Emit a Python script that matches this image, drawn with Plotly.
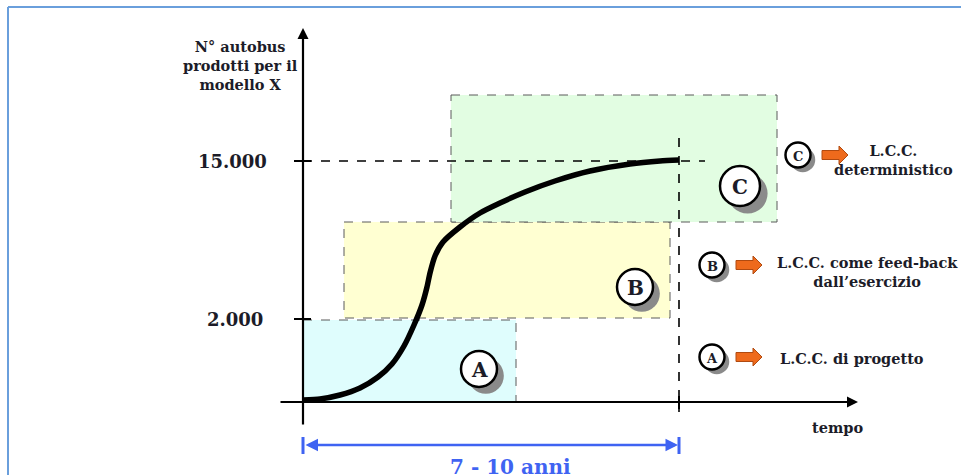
import plotly.graph_objects as go

# ---- diagram data (schematic coordinates: x to the right, y downward) ----
curve_x = [303, 320, 340, 360, 378, 392, 404, 414, 422, 427, 430, 435, 443,
           460, 480, 500, 525, 555, 590, 630, 660, 679]
curve_y = [400, 399, 395, 388, 377, 364, 346, 325, 305, 287, 273, 256, 242,
           227, 213, 203, 192, 181, 171, 164, 161, 160]

phase_names = ["A", "B", "C"]
phase_x0 = [303, 344, 451]
phase_x1 = [516, 670, 777]
phase_y0 = [320, 222, 95]
phase_y1 = [402, 318, 222]
phase_fill = ["#DFFDFD", "#FFFFD2", "#E2FDE2"]
phase_badge_x = [479, 635, 740]
phase_badge_y = [369, 287, 186]
phase_badge_r = [18, 18, 20]

legend_badge_x = [712, 712, 798]
legend_badge_y = [357, 265, 155]
legend_text = ["L.C.C. di progetto",
               "L.C.C. come feed-back<br>dall\u2019esercizio",
               "L.C.C.<br>deterministico"]
legend_text_x = [852, 867, 893]
legend_text_y = [358, 272, 160]

ytick_labels = ["2.000", "15.000"]
ytick_pos = [319, 161]
ytick_label_x = [235, 232]

origin_x, origin_y = 303, 402
end_x = 679
yaxis_top = 28
xaxis_end = 858
span_y = 445
span_label = "7 - 10 anni"
y_title = "N\u00b0 autobus<br>prodotti per il<br>modello X"
x_title = "tempo"

FONT = "DejaVu Serif"
TXT = "#1c1c28"

fig = go.Figure()
shapes = []
annotations = []

# outer frame
shapes.append(dict(type="line", x0=8, y0=7, x1=961, y1=7, line=dict(color="#6A9FDC", width=2)))
shapes.append(dict(type="line", x0=8, y0=7, x1=8, y1=475, line=dict(color="#6A9FDC", width=2)))

# phase rectangles
for i in range(3):
    shapes.append(dict(type="rect", x0=phase_x0[i], x1=phase_x1[i], y0=phase_y0[i], y1=phase_y1[i],
                       fillcolor=phase_fill[i], layer="below",
                       line=dict(color="#5a5a5a", width=1, dash="dash")))

# dashed guide lines
shapes.append(dict(type="line", x0=origin_x, x1=705, y0=ytick_pos[1], y1=ytick_pos[1],
                   line=dict(color="black", width=1.6, dash="dash")))
shapes.append(dict(type="line", x0=end_x, x1=end_x, y0=138, y1=412,
                   line=dict(color="black", width=1.6, dash="dash")))

# curve
fig.add_trace(go.Scatter(x=curve_x, y=curve_y, mode="lines",
                         line=dict(color="black", width=5.5, shape="spline", smoothing=0.6),
                         hoverinfo="skip", showlegend=False))

# axes with arrowheads
annotations.append(dict(x=origin_x, y=yaxis_top, ax=origin_x, ay=426, xref="x", yref="y",
                        axref="x", ayref="y", showarrow=True, arrowhead=2, arrowsize=1,
                        arrowwidth=2.2, arrowcolor="black", text=""))
annotations.append(dict(x=xaxis_end, y=origin_y, ax=279, ay=origin_y, xref="x", yref="y",
                        axref="x", ayref="y", showarrow=True, arrowhead=2, arrowsize=1,
                        arrowwidth=2.2, arrowcolor="black", text=""))
# ticks
for yp in ytick_pos:
    shapes.append(dict(type="line", x0=294, x1=311, y0=yp, y1=yp, line=dict(color="black", width=2)))
shapes.append(dict(type="line", x0=end_x, x1=end_x, y0=396, y1=409, line=dict(color="black", width=2)))

for lab, yp, xp in zip(ytick_labels, ytick_pos, ytick_label_x):
    annotations.append(dict(x=xp, y=yp, text=lab, showarrow=False, xref="x", yref="y",
                            font=dict(family=FONT, size=18, color=TXT, weight="bold")))

annotations.append(dict(x=240, y=65, text=y_title, showarrow=False, xref="x", yref="y",
                        font=dict(family=FONT, size=14.5, color=TXT, weight="bold")))
annotations.append(dict(x=837, y=427, text=x_title, showarrow=False, xref="x", yref="y",
                        font=dict(family=FONT, size=14.5, color=TXT, weight="bold")))

# badges with shadows
def badge(cx, cy, r, letter, size):
    off = r * 0.38
    shapes.append(dict(type="circle", x0=cx - r + off, x1=cx + r + off, y0=cy - r + off, y1=cy + r + off,
                       fillcolor="#8a8a8a", line=dict(width=0)))
    shapes.append(dict(type="circle", x0=cx - r, x1=cx + r, y0=cy - r, y1=cy + r,
                       fillcolor="white", line=dict(color="black", width=2.5)))
    annotations.append(dict(x=cx, y=cy + 1, text=letter, showarrow=False, xref="x", yref="y",
                            font=dict(family=FONT, size=size, color=TXT, weight="bold")))

for i in range(3):
    badge(phase_badge_x[i], phase_badge_y[i], phase_badge_r[i], phase_names[i], 20)
    badge(legend_badge_x[i], legend_badge_y[i], 12.5, phase_names[i], 13)

# orange block arrows
def block_arrow(x0, cy):
    L, hl, bw, hw = 26, 9, 4.5, 9
    p = (f"M {x0} {cy - bw} L {x0 + L - hl} {cy - bw} L {x0 + L - hl} {cy - hw} "
         f"L {x0 + L} {cy} L {x0 + L - hl} {cy + hw} L {x0 + L - hl} {cy + bw} L {x0} {cy + bw} Z")
    shapes.append(dict(type="path", path=p, fillcolor="#EE6A1C", line=dict(color="#B04A10", width=1)))

for i in range(3):
    block_arrow(legend_badge_x[i] + 24, legend_badge_y[i])
    annotations.append(dict(x=legend_text_x[i], y=legend_text_y[i], text=legend_text[i],
                            showarrow=False, xref="x", yref="y", align="center",
                            font=dict(family=FONT, size=14.5, color=TXT, weight="bold")))

# blue span
BLUE = "#3F63F2"
annotations.append(dict(x=end_x - 1, y=span_y, ax=origin_x + 1, ay=span_y, xref="x", yref="y",
                        axref="x", ayref="y", showarrow=True, arrowhead=2, startarrowhead=2,
                        arrowside="end+start", arrowsize=1, startarrowsize=1,
                        arrowwidth=2.5, arrowcolor=BLUE, text=""))
for xb in (origin_x, end_x):
    shapes.append(dict(type="line", x0=xb, x1=xb, y0=437, y1=454, line=dict(color=BLUE, width=3)))
annotations.append(dict(x=510, y=467, text=span_label, showarrow=False, xref="x", yref="y",
                        font=dict(family=FONT, size=20, color=BLUE, weight="bold")))

fig.update_layout(
    width=961, height=475, margin=dict(l=0, r=0, t=0, b=0),
    paper_bgcolor="white", plot_bgcolor="white",
    xaxis=dict(range=[0, 961], visible=False, fixedrange=True),
    yaxis=dict(range=[475, 0], visible=False, fixedrange=True),
    shapes=shapes, annotations=annotations, showlegend=False,
)
fig.write_html("out.html", config={"displayModeBar": False},
               post_script="document.body.style.margin='0';document.body.style.overflow='hidden';")
